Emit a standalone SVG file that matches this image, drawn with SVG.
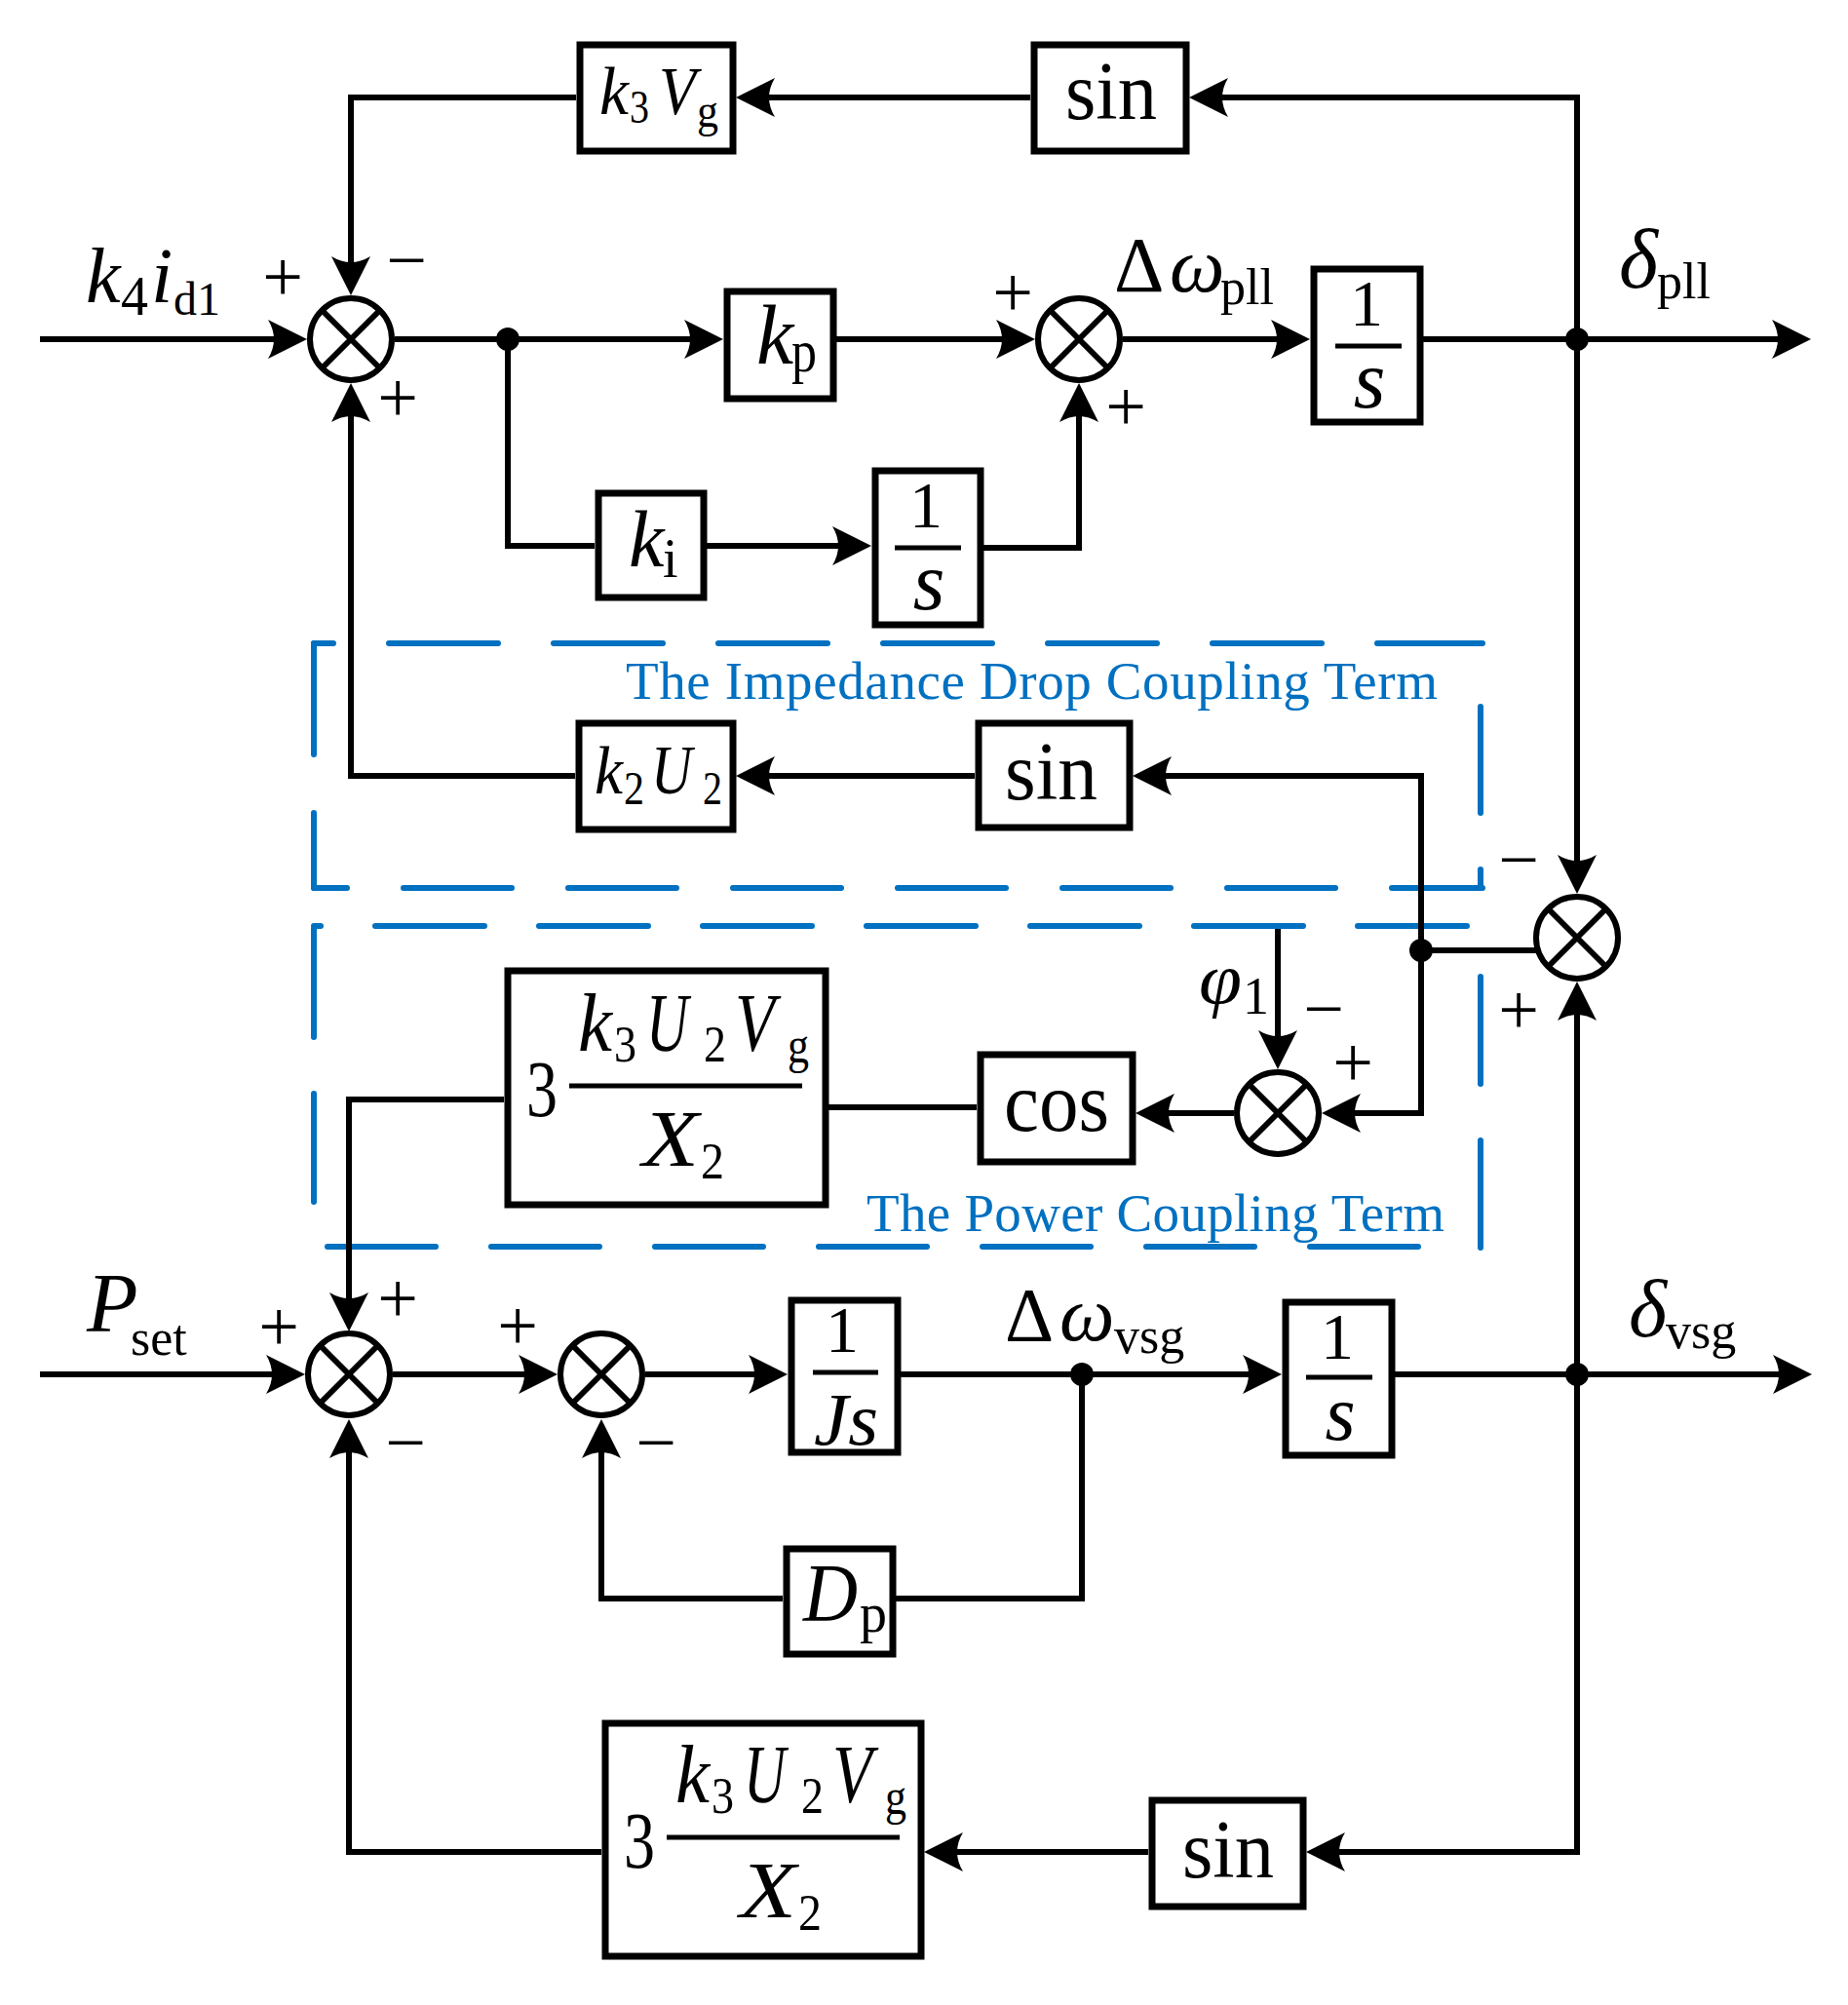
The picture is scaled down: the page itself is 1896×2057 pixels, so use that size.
<svg xmlns="http://www.w3.org/2000/svg" width="1896" height="2057" viewBox="0 0 1896 2057">
<style>
.ln{fill:none;stroke:#000;stroke-width:6;stroke-linejoin:miter}
.bx{fill:#fff;stroke:#000;stroke-width:7}
.sm{fill:#fff;stroke:#000;stroke-width:6}
.x{stroke:#000;stroke-width:6}
.bar{stroke:#000;stroke-width:5}
.db{fill:none;stroke:#0070C0;stroke-width:6;stroke-linecap:round}
.t{font-family:"Liberation Serif","Times New Roman",serif;fill:#000}
.i{font-style:italic}
.sg{font-family:"Liberation Serif","Times New Roman",serif;font-size:74px;text-anchor:middle;fill:#000}
.bt{font-family:"Liberation Serif","Times New Roman",serif;font-size:55px;fill:#0070C0}
.c{text-anchor:middle}
</style>
<defs>
<marker id="ah" viewBox="0 0 40 40" refX="10" refY="20" markerWidth="40" markerHeight="40" markerUnits="userSpaceOnUse" orient="auto">
<path d="M40,20 L0,0 Q12,20 0,40 Z" fill="#000"/>
</marker>
</defs>
<rect width="1896" height="2057" fill="#fff"/>

<g id="dashed-boxes">
<path class="db" d="M322,660 H1521" stroke-dasharray="112 57" stroke-dashoffset="92"/>
<path class="db" d="M1519,725 V911" stroke-dasharray="109 58"/>
<path class="db" d="M322,911 H1521" stroke-dasharray="111 58" stroke-dashoffset="77"/>
<path class="db" d="M322,660 V911" stroke-dasharray="114 60"/>
<path class="db" d="M322,950 H1512" stroke-dasharray="112 56" stroke-dashoffset="105"/>
<path class="db" d="M1519,1002 V1281" stroke-dasharray="110 58"/>
<path class="db" d="M336,1279 H1490" stroke-dasharray="111 57"/>
<path class="db" d="M322,953 V1234" stroke-dasharray="111 58"/>
<text class="bt" x="642" y="717" textLength="833" lengthAdjust="spacing">The Impedance Drop Coupling Term</text>
<text class="bt" x="889" y="1263" textLength="593" lengthAdjust="spacing">The Power Coupling Term</text>
</g>

<g id="connectors">
<path class="ln" d="M41,348 H285" marker-end="url(#ah)"/>
<path class="ln" d="M405,348 H712" marker-end="url(#ah)"/>
<path class="ln" d="M858,348 H1032" marker-end="url(#ah)"/>
<path class="ln" d="M1152,348 H1314" marker-end="url(#ah)"/>
<path class="ln" d="M1460,348 H1828" marker-end="url(#ah)"/>
<path class="ln" d="M521,348 V560 H610"/>
<path class="ln" d="M725,560 H864" marker-end="url(#ah)"/>
<path class="ln" d="M1009,562 H1107 V423" marker-end="url(#ah)"/>
<path class="ln" d="M1618,348 V100 H1250" marker-end="url(#ah)"/>
<path class="ln" d="M1057,100 H785" marker-end="url(#ah)"/>
<path class="ln" d="M591,100 H360 V273" marker-end="url(#ah)"/>
<path class="ln" d="M590,796 H360 V423" marker-end="url(#ah)"/>
<path class="ln" d="M1000,796 H785" marker-end="url(#ah)"/>
<path class="ln" d="M1458,975 V796 H1192" marker-end="url(#ah)"/>
<path class="ln" d="M1458,975 H1576"/>
<path class="ln" d="M1458,975 V1142 H1386" marker-end="url(#ah)"/>
<path class="ln" d="M1311,953 V1067" marker-end="url(#ah)"/>
<path class="ln" d="M1266,1142 H1195" marker-end="url(#ah)"/>
<path class="ln" d="M1002,1136 H850"/>
<path class="ln" d="M517,1128 H358 V1336" marker-end="url(#ah)"/>
<path class="ln" d="M1618,348 V887" marker-end="url(#ah)"/>
<path class="ln" d="M1618,1410 V1037" marker-end="url(#ah)"/>
<path class="ln" d="M41,1410 H283" marker-end="url(#ah)"/>
<path class="ln" d="M403,1410 H542" marker-end="url(#ah)"/>
<path class="ln" d="M662,1410 H778" marker-end="url(#ah)"/>
<path class="ln" d="M924,1410 H1285" marker-end="url(#ah)"/>
<path class="ln" d="M1431,1410 H1829" marker-end="url(#ah)"/>
<path class="ln" d="M1110,1410 V1640 H919"/>
<path class="ln" d="M803,1640 H617 V1486" marker-end="url(#ah)"/>
<path class="ln" d="M1618,1410 V1900 H1370" marker-end="url(#ah)"/>
<path class="ln" d="M1178,1900 H978" marker-end="url(#ah)"/>
<path class="ln" d="M617,1900 H358 V1486" marker-end="url(#ah)"/>
<circle cx="521" cy="348" r="12"/>
<circle cx="1618" cy="348" r="12"/>
<circle cx="1458" cy="975" r="12"/>
<circle cx="1110" cy="1410" r="12"/>
<circle cx="1618" cy="1410" r="12"/>
</g>

<g id="labels">
<text class="t i" x="88" y="310" font-size="80">k</text>
<text class="t" x="124" y="323" font-size="56">4</text>
<text class="t i" x="155" y="310" font-size="80">i</text>
<text class="t" x="178" y="323" font-size="48">d1</text>
<text class="t" x="1143" y="299" font-size="80">Δ</text>
<text class="t i" x="1200" y="299" font-size="80">ω</text>
<text class="t" x="1252" y="312" font-size="52">pll</text>
<text class="t i" x="1661" y="295" font-size="86">δ</text>
<text class="t" x="1700" y="306" font-size="52">pll</text>
<text class="t i" x="1230" y="1029" font-size="74" textLength="44" lengthAdjust="spacingAndGlyphs">φ</text>
<text class="t" x="1275" y="1040" font-size="54">1</text>
<text class="t i" x="89" y="1366" font-size="86">P</text>
<text class="t" x="134" y="1390" font-size="52">set</text>
<text class="t" x="1031" y="1375" font-size="78">Δ</text>
<text class="t i" x="1087" y="1375" font-size="80">ω</text>
<text class="t" x="1143" y="1388" font-size="52">vsg</text>
<text class="t i" x="1671" y="1371" font-size="84">δ</text>
<text class="t" x="1709" y="1383" font-size="52">vsg</text>
</g>

<g id="signs">
<text class="sg" x="290" y="309">+</text>
<text class="sg" x="417" y="292">−</text>
<text class="sg" x="408" y="433">+</text>
<text class="sg" x="1039" y="325">+</text>
<text class="sg" x="1155" y="442">+</text>
<text class="sg" x="1558" y="907">−</text>
<text class="sg" x="1558" y="1061">+</text>
<text class="sg" x="1358" y="1060">−</text>
<text class="sg" x="1388" y="1115">+</text>
<text class="sg" x="286" y="1386">+</text>
<text class="sg" x="408" y="1357">+</text>
<text class="sg" x="416" y="1505">−</text>
<text class="sg" x="531" y="1385">+</text>
<text class="sg" x="673" y="1505">−</text>
</g>

<g id="sum1"><circle class="sm" cx="360" cy="348" r="42"/><path class="x" d="M330,318 L390,378 M390,318 L330,378"/></g>
<g id="sum2"><circle class="sm" cx="1107" cy="348" r="42"/><path class="x" d="M1077,318 L1137,378 M1137,318 L1077,378"/></g>
<g id="sum3"><circle class="sm" cx="1311" cy="1142" r="42"/><path class="x" d="M1281,1112 L1341,1172 M1341,1112 L1281,1172"/></g>
<g id="sum4"><circle class="sm" cx="1618" cy="962" r="42"/><path class="x" d="M1588,932 L1648,992 M1648,932 L1588,992"/></g>
<g id="sum5"><circle class="sm" cx="358" cy="1410" r="42"/><path class="x" d="M328,1380 L388,1440 M388,1380 L328,1440"/></g>
<g id="sum6"><circle class="sm" cx="617" cy="1410" r="42"/><path class="x" d="M587,1380 L647,1440 M647,1380 L587,1440"/></g>

<g id="k3Vg"><rect class="bx" x="595" y="46" width="157" height="109"/>
<text class="t i" x="615" y="117" font-size="70" textLength="30" lengthAdjust="spacingAndGlyphs">k</text>
<text class="t" x="646" y="126" font-size="48" textLength="20" lengthAdjust="spacingAndGlyphs">3</text>
<text class="t i" x="676" y="117" font-size="70" textLength="38" lengthAdjust="spacingAndGlyphs">V</text>
<text class="t" x="715" y="130" font-size="48" textLength="22" lengthAdjust="spacingAndGlyphs">g</text></g>

<g id="sin-top"><rect class="bx" x="1061" y="46" width="156" height="109"/>
<text class="t" x="1093" y="122" font-size="84" textLength="94" lengthAdjust="spacingAndGlyphs">sin</text></g>

<g id="kp"><rect class="bx" x="746" y="299" width="109" height="110"/>
<text class="t i" x="776" y="373" font-size="86">k</text>
<text class="t" x="812" y="381" font-size="62" textLength="26" lengthAdjust="spacingAndGlyphs">p</text></g>

<g id="int-pll"><rect class="bx" x="1348" y="276" width="109" height="157"/>
<text class="t c" x="1402" y="334" font-size="68">1</text>
<line class="bar" x1="1370" y1="355" x2="1438" y2="355"/>
<text class="t i c" x="1405" y="418" font-size="84">s</text></g>

<g id="ki"><rect class="bx" x="614" y="506" width="108" height="107"/>
<text class="t i" x="645" y="581" font-size="82">k</text>
<text class="t" x="680" y="592" font-size="56">i</text></g>

<g id="int-ki"><rect class="bx" x="898" y="483" width="108" height="158"/>
<text class="t c" x="950" y="541" font-size="68">1</text>
<line class="bar" x1="918" y1="562" x2="986" y2="562"/>
<text class="t i c" x="953" y="625" font-size="84">s</text></g>

<g id="k2U2"><rect class="bx" x="594" y="742" width="158" height="109"/>
<text class="t i" x="610" y="814" font-size="70" textLength="29" lengthAdjust="spacingAndGlyphs">k</text>
<text class="t" x="640" y="825" font-size="48" textLength="21" lengthAdjust="spacingAndGlyphs">2</text>
<text class="t i" x="668" y="814" font-size="72" textLength="42" lengthAdjust="spacingAndGlyphs">U</text>
<text class="t" x="721" y="825" font-size="48" textLength="20" lengthAdjust="spacingAndGlyphs">2</text></g>

<g id="sin-mid"><rect class="bx" x="1004" y="742" width="155" height="107"/>
<text class="t" x="1031" y="820" font-size="84" textLength="95" lengthAdjust="spacingAndGlyphs">sin</text></g>

<g id="power-mid"><rect class="bx" x="521" y="996" width="326" height="240"/>
<text class="t" x="540" y="1145" font-size="82" textLength="32" lengthAdjust="spacingAndGlyphs">3</text>
<text class="t i" x="593" y="1078" font-size="84" textLength="35" lengthAdjust="spacingAndGlyphs">k</text>
<text class="t" x="630" y="1089" font-size="52" textLength="23" lengthAdjust="spacingAndGlyphs">3</text>
<text class="t i" x="663" y="1078" font-size="84" textLength="43" lengthAdjust="spacingAndGlyphs">U</text>
<text class="t" x="722" y="1089" font-size="52" textLength="23" lengthAdjust="spacingAndGlyphs">2</text>
<text class="t i" x="754" y="1078" font-size="84" textLength="41" lengthAdjust="spacingAndGlyphs">V</text>
<text class="t" x="808" y="1090" font-size="52" textLength="22" lengthAdjust="spacingAndGlyphs">g</text>
<line class="bar" x1="584" y1="1114" x2="823" y2="1114"/>
<text class="t i" x="659" y="1196" font-size="82" textLength="58" lengthAdjust="spacingAndGlyphs">X</text>
<text class="t" x="719" y="1209" font-size="52" textLength="24" lengthAdjust="spacingAndGlyphs">2</text></g>

<g id="cos"><rect class="bx" x="1006" y="1082" width="156" height="110"/>
<text class="t" x="1030" y="1160" font-size="86" textLength="108" lengthAdjust="spacingAndGlyphs">cos</text></g>

<g id="inv-Js"><rect class="bx" x="812" y="1334" width="109" height="156"/>
<text class="t c" x="864" y="1387" font-size="68">1</text>
<line class="bar" x1="834" y1="1408" x2="901" y2="1408"/>
<text class="t i" x="835" y="1482" font-size="76" textLength="66" lengthAdjust="spacingAndGlyphs">Js</text></g>

<g id="int-vsg"><rect class="bx" x="1319" y="1336" width="109" height="157"/>
<text class="t c" x="1372" y="1394" font-size="68">1</text>
<line class="bar" x1="1340" y1="1413" x2="1408" y2="1413"/>
<text class="t i c" x="1375" y="1477" font-size="80">s</text></g>

<g id="Dp"><rect class="bx" x="807" y="1589" width="109" height="108"/>
<text class="t i" x="824" y="1663" font-size="84" textLength="56" lengthAdjust="spacingAndGlyphs">D</text>
<text class="t" x="882" y="1674" font-size="56" textLength="28" lengthAdjust="spacingAndGlyphs">p</text></g>

<g id="power-bottom"><rect class="bx" x="621" y="1768" width="324" height="239"/>
<text class="t" x="640" y="1916" font-size="82" textLength="32" lengthAdjust="spacingAndGlyphs">3</text>
<text class="t i" x="693" y="1849" font-size="84" textLength="35" lengthAdjust="spacingAndGlyphs">k</text>
<text class="t" x="730" y="1860" font-size="52" textLength="23" lengthAdjust="spacingAndGlyphs">3</text>
<text class="t i" x="763" y="1849" font-size="84" textLength="43" lengthAdjust="spacingAndGlyphs">U</text>
<text class="t" x="822" y="1860" font-size="52" textLength="23" lengthAdjust="spacingAndGlyphs">2</text>
<text class="t i" x="854" y="1849" font-size="84" textLength="41" lengthAdjust="spacingAndGlyphs">V</text>
<text class="t" x="908" y="1861" font-size="52" textLength="22" lengthAdjust="spacingAndGlyphs">g</text>
<line class="bar" x1="684" y1="1885" x2="923" y2="1885"/>
<text class="t i" x="759" y="1967" font-size="82" textLength="58" lengthAdjust="spacingAndGlyphs">X</text>
<text class="t" x="819" y="1980" font-size="52" textLength="24" lengthAdjust="spacingAndGlyphs">2</text></g>

<g id="sin-bottom"><rect class="bx" x="1182" y="1847" width="155" height="109"/>
<text class="t" x="1213" y="1926" font-size="84" textLength="94" lengthAdjust="spacingAndGlyphs">sin</text></g>
</svg>
